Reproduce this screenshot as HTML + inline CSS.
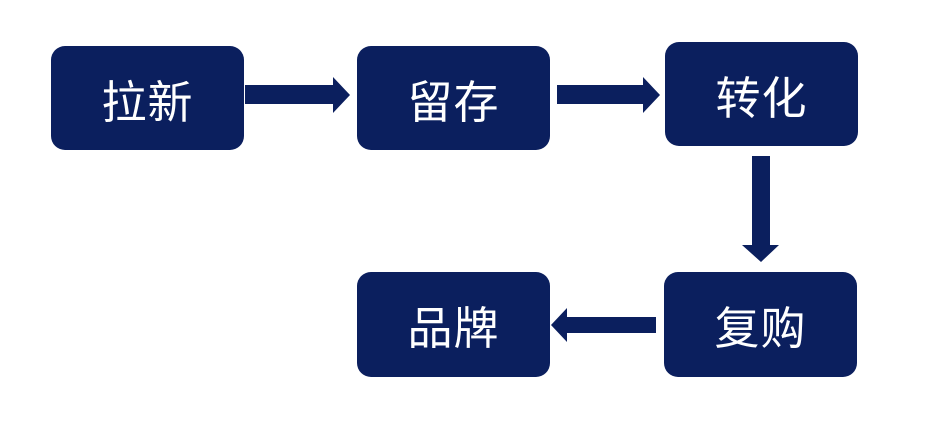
<!DOCTYPE html>
<html><head><meta charset="utf-8"><style>
body{margin:0;width:936px;height:426px;background:#fff;position:relative;overflow:hidden;font-family:"Liberation Sans","Noto Sans CJK SC",sans-serif}
.b{position:absolute;width:193px;height:104px;background:#0b1f5e;border-radius:14px;color:#fff;font-size:45px;display:flex;align-items:center;justify-content:center;letter-spacing:1px}
svg{position:absolute;left:0;top:0}
</style></head><body>
<div class="b" style="left:51px;top:46px">拉新</div>
<div class="b" style="left:357px;top:46px">留存</div>
<div class="b" style="left:665px;top:42px">转化</div>
<div class="b" style="left:664px;top:272px;height:105px">复购</div>
<div class="b" style="left:357px;top:272px;height:105px">品牌</div>
<svg width="936" height="426">
<g fill="#0b1f5e">
<polygon points="245,85 333,85 333,77 350,95 333,113 333,104 245,104"/>
<polygon points="557,85 643,85 643,77 660,95 643,113 643,104 557,104"/>
<polygon points="752,156 770,156 770,245 779,245 761,262 742,245 752,245"/>
<polygon points="656,317 567,317 567,308 551,325 567,342 567,333 656,333"/>
</g></svg>
</body></html>
